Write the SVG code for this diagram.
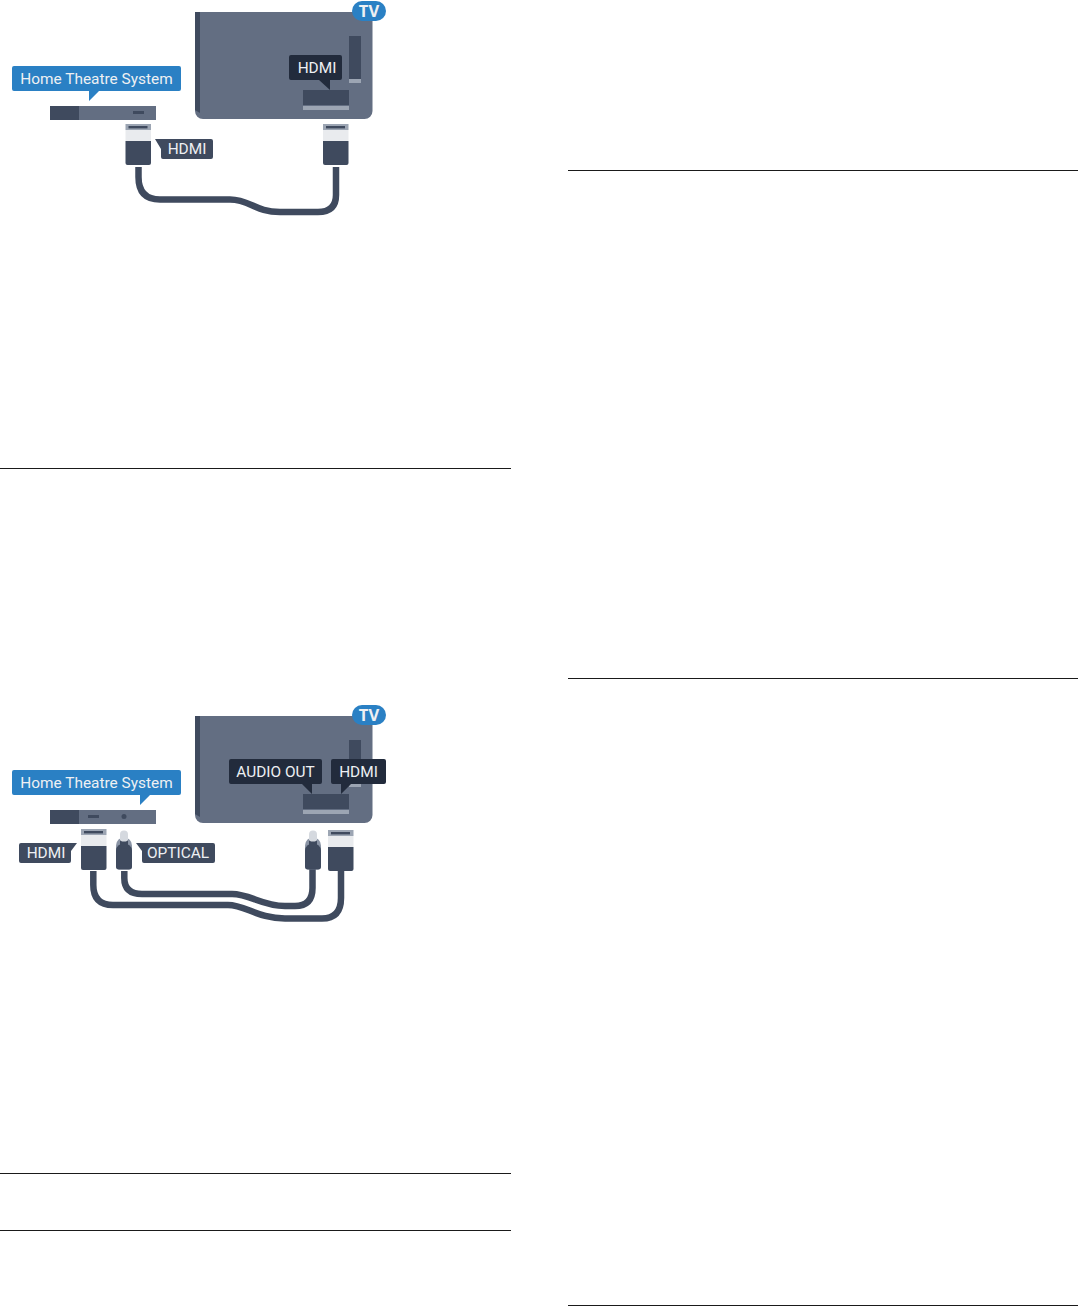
<svg xmlns="http://www.w3.org/2000/svg" width="1078" height="1307" viewBox="0 0 1078 1307">
<style>
.bg{fill:#fff}
.body{fill:#636e82}
.dark{fill:#3f4a5e}
.light{fill:#9ca5b3}
.mid{fill:#8a94a5}
.pale{fill:#e9ebee}
.blue{fill:#2a80c4}
.navy{fill:#222b3c}
.cable{fill:none;stroke:#3f4a5e;stroke-width:6.500;stroke-linecap:butt}
.rule{stroke:#1a1a1a;stroke-width:1}
text{font-family:"Roboto","Liberation Sans",sans-serif;fill:#eef0f3;text-anchor:middle;font-weight:400}
.t15{font-size:15.400px}
.tv{font-size:16.500px;font-weight:700;font-family:"Open Sans","Roboto",sans-serif}
</style>
<defs>
<g id="hdmi-plug">
<rect x="0" y="0" width="25.500" height="6" class="light"/>
<rect x="3" y="2" width="19" height="2.400" class="dark"/>
<rect x="0" y="6" width="25.500" height="11" class="pale"/>
<path d="M0 17H25.500V39a2 2 0 0 1-2 2H2a2 2 0 0 1-2-2Z" class="dark"/>
</g>
<g id="optical-plug">
<path d="M0 19a8 8 0 0 1 16 0v21a3 3 0 0 1-3 3H3a3 3 0 0 1-3-3Z" class="mid"/>
<path d="M0 24a8 7 0 0 1 16 0v16a3 3 0 0 1-3 3H3a3 3 0 0 1-3-3Z" class="dark"/>
<path d="M4 10H12V18a4 4 0 0 1-8 0Z" class="dark"/>
<path d="M4 8a4 4 0 0 1 8 0v5a4 2 0 0 1-8 0Z" fill="#d5d9df"/>
</g>
</defs>
<rect class="bg" width="1078" height="1307"/>
<g id="rules">
<line class="rule" x1="0" y1="468.500" x2="511" y2="468.500"/>
<line class="rule" x1="0" y1="1173.500" x2="511" y2="1173.500"/>
<line class="rule" x1="0" y1="1230.500" x2="511" y2="1230.500"/>
<line class="rule" x1="568" y1="170.500" x2="1078" y2="170.500"/>
<line class="rule" x1="568" y1="678.500" x2="1078" y2="678.500"/>
<line class="rule" x1="568" y1="1305.500" x2="1078" y2="1305.500"/>
</g>
<g id="connectors">
<path class="cable" d="M138.500 167V177Q138.500 199.500 160 199.500H230C250 199.500 255 212 280 212H318Q336 212 336 195V167"/>
<path class="cable" d="M124.300 871V878Q124.300 894 142 894H232C250 894 262 906 285 906H295Q312.500 906 312.500 888V869"/>
<path class="cable" d="M93.300 871V885Q93.300 905 113 905H228C245 905 258 918.500 285 918.500H322Q341 918.500 341 898V871"/>
</g>
<g id="tv-1">
<path class="body" d="M195 12H372.500V111a8 8 0 0 1-8 8H203a8 8 0 0 1-8-8Z"/>
<path class="dark" d="M195 12H200V113L195 110Z"/>
<rect class="dark" x="349" y="36" width="12" height="43"/>
<rect class="light" x="349" y="79" width="12" height="4"/>
<rect class="dark" x="303" y="90" width="46" height="15"/>
<rect class="light" x="303" y="106" width="46" height="4"/>
<rect class="blue" x="352" y="1" width="34" height="20" rx="10"/>
<text class="tv" x="369" y="17">TV</text>
<path class="navy" d="M293 55H340a2 2 0 0 1 2 2V78a2 2 0 0 1-2 2H330V90L319 80H291a2 2 0 0 1-2-2V57a2 2 0 0 1 2-2Z"/>
<text class="t15" x="317" y="73">HDMI</text>
</g>
<g id="home-theatre-1">
<path class="blue" d="M14 66H179a2 2 0 0 1 2 2V89a2 2 0 0 1-2 2H99L89 101V91H14a2 2 0 0 1-2-2V68a2 2 0 0 1 2-2Z"/>
<text class="t15" x="96.500" y="84">Home Theatre System</text>
<rect class="body" x="50" y="106" width="106" height="14"/>
<rect class="dark" x="50" y="106" width="29" height="14"/>
<rect class="dark" x="133" y="111" width="11" height="3"/>
</g>
<g id="plug-1a"><use href="#hdmi-plug" x="125.500" y="124"/></g>
<g id="plug-1b"><use href="#hdmi-plug" x="323" y="124"/></g>
<g id="hdmi-label-1">
<path class="dark" d="M155 139H211a2 2 0 0 1 2 2V157a2 2 0 0 1-2 2H163a2 2 0 0 1-2-2V149Z"/>
<text class="t15" x="187" y="154">HDMI</text>
</g>
<g id="tv-2">
<path class="body" d="M195 716H372.500V815a8 8 0 0 1-8 8H203a8 8 0 0 1-8-8Z"/>
<path class="dark" d="M195 716H200V817L195 814Z"/>
<rect class="dark" x="349" y="740" width="12" height="43"/>
<rect class="light" x="349" y="783" width="12" height="4"/>
<rect class="dark" x="303" y="794" width="46" height="15"/>
<rect class="light" x="303" y="810" width="46" height="4"/>
<rect class="blue" x="352" y="705" width="34" height="20" rx="10"/>
<text class="tv" x="369" y="721">TV</text>
<path class="navy" d="M231 759H320a2 2 0 0 1 2 2V782a2 2 0 0 1-2 2H312V794L302 784H231a2 2 0 0 1-2-2V761a2 2 0 0 1 2-2Z"/>
<text class="t15" x="275.500" y="777">AUDIO OUT</text>
<path class="navy" d="M333 759H384a2 2 0 0 1 2 2V782a2 2 0 0 1-2 2H351L341 794V784H333a2 2 0 0 1-2-2V761a2 2 0 0 1 2-2Z"/>
<text class="t15" x="358.500" y="777">HDMI</text>
</g>
<g id="home-theatre-2">
<path class="blue" d="M14 770H179a2 2 0 0 1 2 2V793a2 2 0 0 1-2 2H150L140 805V795H14a2 2 0 0 1-2-2V772a2 2 0 0 1 2-2Z"/>
<text class="t15" x="96.500" y="788">Home Theatre System</text>
<rect class="body" x="50" y="810" width="106" height="14"/>
<rect class="dark" x="50" y="810" width="29" height="14"/>
<rect class="dark" x="88" y="815" width="11" height="3"/>
<circle class="dark" cx="124" cy="816.500" r="2.500"/>
</g>
<g id="plug-2a"><use href="#hdmi-plug" x="81" y="829"/></g>
<g id="plug-2b"><use href="#optical-plug" x="116" y="826.500"/></g>
<g id="plug-2c"><use href="#optical-plug" x="305" y="826.500"/></g>
<g id="plug-2d"><use href="#hdmi-plug" x="328" y="830"/></g>
<g id="hdmi-label-2">
<path class="dark" d="M21 843H77L71 851V861a2 2 0 0 1-2 2H21a2 2 0 0 1-2-2V845a2 2 0 0 1 2-2Z"/>
<text class="t15" x="46" y="858">HDMI</text>
</g>
<g id="optical-label">
<path class="dark" d="M136 843H213a2 2 0 0 1 2 2V861a2 2 0 0 1-2 2H144a2 2 0 0 1-2-2V851Z"/>
<text class="t15" x="178" y="858">OPTICAL</text>
</g>
</svg>
